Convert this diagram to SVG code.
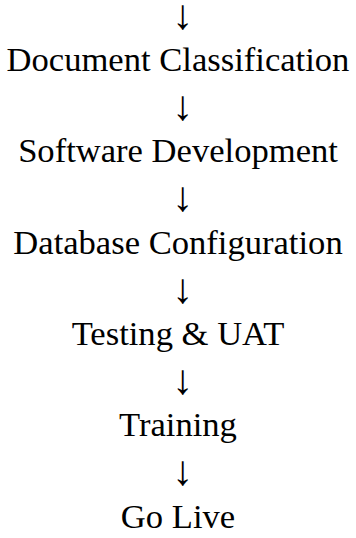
<svg xmlns="http://www.w3.org/2000/svg" width="356" height="538" viewBox="0 0 356 538">
  <style>
    .label { font-family: "Liberation Serif", "Times New Roman", serif; font-size: 34.6px; fill: #000; text-anchor: middle; }
    .arrow { font-family: "Liberation Serif", "Times New Roman", serif; font-size: 42px; fill: #000; text-anchor: middle; }
  </style>
  <rect width="356" height="538" fill="#fff"/>
  <g id="connectors">
    <text class="arrow" x="182.5" y="28.7">↓</text>
    <text class="arrow" x="182.5" y="120">↓</text>
    <text class="arrow" x="182.5" y="211.3">↓</text>
    <text class="arrow" x="182.5" y="302.6">↓</text>
    <text class="arrow" x="182.5" y="393.9">↓</text>
    <text class="arrow" x="182.5" y="485.2">↓</text>
  </g>
  <g id="document-classification"><text class="label" x="178" y="71">Document Classification</text></g>
  <g id="software-development"><text class="label" x="178" y="162.3">Software Development</text></g>
  <g id="database-configuration"><text class="label" x="178" y="253.6">Database Configuration</text></g>
  <g id="testing-uat"><text class="label" x="178" y="345">Testing &amp; UAT</text></g>
  <g id="training"><text class="label" x="178" y="436.2">Training</text></g>
  <g id="go-live"><text class="label" x="178" y="527.5">Go Live</text></g>
</svg>
